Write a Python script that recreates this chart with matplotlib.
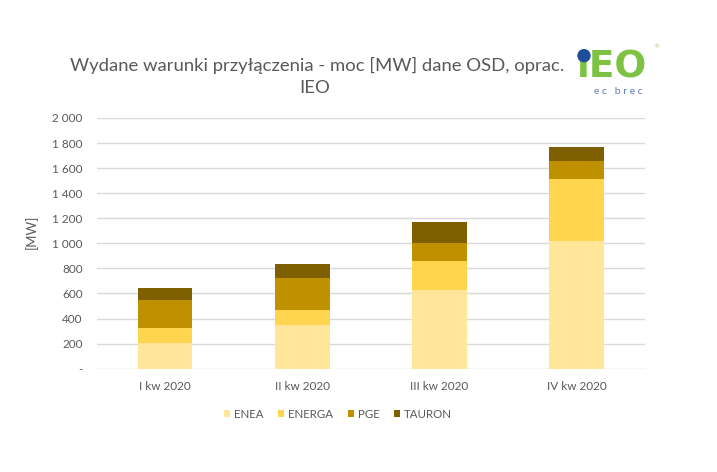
import matplotlib
matplotlib.use("Agg")
import matplotlib.pyplot as plt
import numpy as np

plt.rcParams['font.family'] = ['Lato', 'DejaVu Sans']

categories = ["I kw 2020", "II kw 2020", "III kw 2020", "IV kw 2020"]
series_names = ["ENEA", "ENERGA", "PGE", "TAURON"]
enea = [208, 349, 629, 1021]
energa = [115, 118, 227, 494]
pge = [229, 256, 144, 144]
tauron = [88, 112, 173, 106]
yticks = [0, 200, 400, 600, 800, 1000, 1200, 1400, 1600, 1800, 2000]
ytick_labels = ["-", "200", "400", "600", "800", "1 000", "1 200", "1 400", "1 600", "1 800", "2 000"]
colors = ["#FFE699", "#FFD550", "#BF9000", "#7F6000"]

W, H = 717, 472
fig = plt.figure(figsize=(W/100, H/100), dpi=100)
ax = fig.add_axes([96.5/W, 1-368.7/H, (645-96.5)/W, (368.7-118)/H])

x = np.arange(len(categories))
bottom = np.zeros(len(categories))
for name, vals, c in zip(series_names, [enea, energa, pge, tauron], colors):
    ax.bar(x, vals, width=0.4, bottom=bottom, color=c, label=name, zorder=3)
    bottom += np.array(vals)

ax.set_xlim(-0.5, len(categories) - 0.5)
ax.set_ylim(0, 2000)
ax.set_yticks(yticks)
ax.set_yticklabels(ytick_labels)
ax.set_xticks(x)
ax.set_xticklabels(categories)
ax.grid(axis='y', color='#D9D9D9', linewidth=1, zorder=0)
for s in ax.spines.values():
    s.set_visible(False)
ax.tick_params(axis='both', length=0, colors='#595959', labelsize=8.5)
ax.tick_params(axis='y', pad=10)
ax.tick_params(axis='x', pad=9)
ax.set_ylabel("[MW]", color='#595959', fontsize=9.5)
ax.yaxis.set_label_coords((38-96.5)/548.5, (368.7-232)/250.7)

fig.text(317/W, 1-71/H, "Wydane warunki przyłączenia - moc [MW] dane OSD, oprac.",
         ha='center', va='baseline', fontsize=13.3, color='#595959')
fig.text(315/W, 1-93/H, "IEO",
         ha='center', va='baseline', fontsize=13.3, color='#595959')

leg = ax.legend(loc='center', bbox_to_anchor=(338/W, 1-414/H), bbox_transform=fig.transFigure,
                ncol=4, frameon=False, fontsize=8.3, handlelength=0.5, handleheight=0.5,
                handletextpad=0.35, columnspacing=1.3)
for t in leg.get_texts():
    t.set_color('#595959')

# logo
fig.text(577/W, 1-78/H, "\u0131EO", ha='left', va='baseline', fontsize=27, fontweight='heavy',
         color='#7DC242', family=['DejaVu Sans'])
fig.patches.append(matplotlib.patches.Ellipse((584/W, 1-55.7/H), 12/W, 12/H,
                   transform=fig.transFigure, color='#1F4E9B', zorder=5))
fig.text(618/W, 1-92/H, "e c   b r e c", ha='center', va='center', fontsize=7.5, color='#5B7DB1')
fig.text(657/W, 1-47/H, "®", ha='center', va='center', fontsize=4, color='#A0C880')

fig.savefig("out.png", dpi=100, facecolor='white')
